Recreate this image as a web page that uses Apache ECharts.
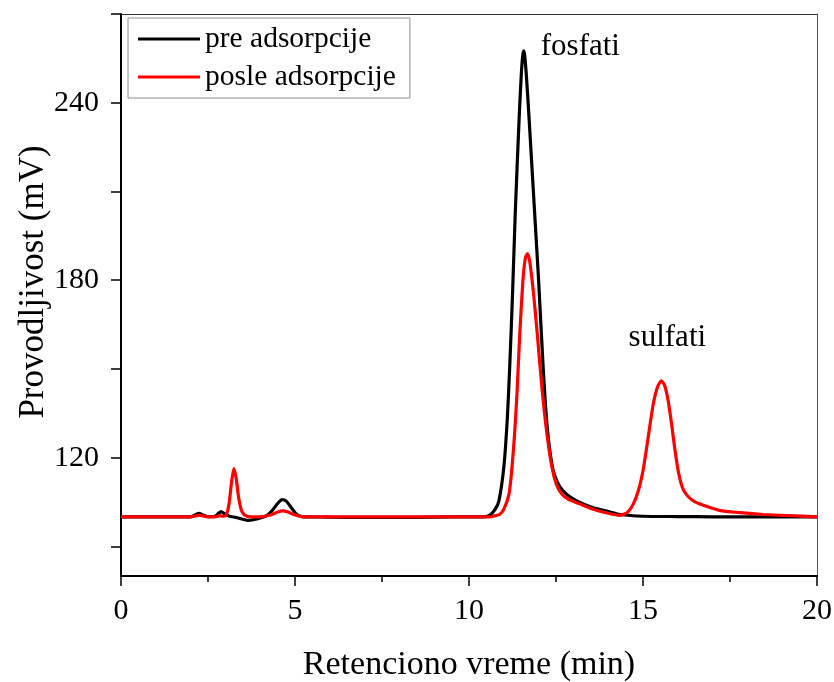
<!DOCTYPE html>
<html>
<head>
<meta charset="utf-8">
<script src="https://cdn.jsdelivr.net/npm/echarts@6/dist/echarts.min.js"></script>
<style>
  html, body { margin: 0; padding: 0; background: #fff; }
  #chart { width: 834px; height: 682px; }
</style>
</head>
<body>
<div id="chart"></div>
<script>
// Ion chromatogram: conductivity vs. retention time, before and after adsorption
const seriesNames = ['pre adsorpcije', 'posle adsorpcije'];

const preTime = [0, 1, 2, 2.12, 2.24, 2.36, 2.5, 2.7, 2.8, 2.88, 2.96, 3.1, 3.3, 3.5, 3.65, 3.8, 4.0, 4.2, 4.35, 4.5, 4.63, 4.75, 4.9, 5.05, 5.2, 5.5, 6, 7, 8, 9, 10, 10.4, 10.6, 10.75, 10.86, 11.0, 11.1, 11.17, 11.25, 11.33, 11.44, 11.5, 11.54, 11.57, 11.6, 11.65, 11.72, 11.8, 11.9, 12.0, 12.13, 12.25, 12.4, 12.55, 12.7, 12.9, 13.2, 13.57, 14.0, 14.33, 15, 16, 17, 18, 19, 20];
const preValue = [100, 100, 100, 100.6, 101.2, 100.6, 100.1, 100.2, 101.2, 101.8, 101.2, 100.3, 99.8, 99.2, 98.8, 99.0, 99.6, 100.5, 102.2, 104.5, 105.8, 105.3, 103, 100.8, 100.1, 100, 99.9, 99.8, 99.8, 99.9, 100, 100, 100.6, 102.5, 105.4, 116.7, 133, 150.7, 175, 202.9, 234.6, 249, 255.5, 257.5, 256, 249, 236, 220, 200, 180, 150.7, 130, 116.7, 111.5, 108.8, 106.8, 104.8, 103.1, 101.8, 100.8, 100.2, 100.1, 100, 100, 100, 100];

const postTime = [0, 1, 2, 2.12, 2.24, 2.36, 2.5, 2.7, 2.85, 2.95, 3.02, 3.1, 3.17, 3.24, 3.31, 3.38, 3.46, 3.55, 3.7, 4.0, 4.3, 4.5, 4.65, 4.8, 5.0, 5.2, 5.5, 6, 7, 8, 9, 10, 10.6, 10.75, 10.88, 11.0, 11.15, 11.23, 11.31, 11.38, 11.46, 11.55, 11.62, 11.68, 11.75, 11.85, 11.96, 12.1, 12.24, 12.38, 12.51, 12.65, 12.85, 13.2, 13.57, 14.0, 14.33, 14.55, 14.72, 14.87, 15.0, 15.1, 15.2, 15.3, 15.42, 15.53, 15.62, 15.72, 15.82, 15.92, 16.02, 16.13, 16.25, 16.4, 16.6, 17.2, 17.8, 18.45, 19.4, 20];
const postValue = [100, 100, 100, 100.3, 100.6, 100.3, 100, 100, 100.4, 100.2, 100.5, 104, 111, 116.3, 113, 106.5, 102.2, 100.6, 100, 100, 100.6, 101.6, 102, 101.6, 100.6, 100.1, 100, 100, 100, 100, 100, 100, 100, 100.4, 100.8, 102.5, 107.7, 116, 128, 142, 162.1, 180, 187.5, 189, 186, 176, 162.1, 143, 128, 117, 111, 108, 106, 104.3, 102.6, 101.2, 100.5, 101.5, 104.3, 109, 115.6, 123, 131, 138.5, 144, 146, 144.5, 139.5, 131.5, 122.5, 115, 110, 107.5, 105.8, 104.5, 102.2, 101.4, 100.8, 100.3, 100];

// Peak annotations: label text and its anchor in data units
const peakLabels = ['fosfati', 'sulfati'];
const peakLabelTime = [13.2, 15.7];
const peakLabelValue = [259, 160.5];

const xTicks = [0, 5, 10, 15, 20];
const yTickValues = [90, 120, 150, 180, 210, 240, 270];
const yLabelValues = [120, 180, 240];

const FONT = '"Liberation Serif", "DejaVu Serif", serif';

function zip(xs, ys) { return xs.map((x, i) => [x, ys[i]]); }

const chart = echarts.init(document.getElementById('chart'), null, { renderer: 'canvas' });

chart.setOption({
  animation: false,
  backgroundColor: '#ffffff',
  textStyle: { fontFamily: FONT, color: '#000' },
  grid: { left: 121, right: 17, top: 14, bottom: 106, containLabel: false, outerBoundsMode: 'none' },
  legend: {
    data: seriesNames,
    orient: 'vertical',
    left: 128,
    top: 18,
    padding: [6, 14, 6, 10],
    itemGap: 8,
    itemWidth: 62,
    itemHeight: 3,
    icon: 'rect',
    borderColor: '#8c8c8c',
    borderWidth: 1,
    backgroundColor: '#ffffff',
    textStyle: { fontFamily: FONT, fontSize: 29.5, color: '#000', padding: [0, 0, 0, 0] }
  },
  xAxis: [{
    type: 'value',
    min: 0,
    max: 20,
    interval: 5,
    name: 'Retenciono vreme (min)',
    nameLocation: 'middle',
    nameGap: 72,
    nameTextStyle: { fontFamily: FONT, fontSize: 34, color: '#000' },
    axisLine: { show: true, onZero: false, lineStyle: { color: '#000', width: 2 } },
    axisTick: { show: true, inside: false, length: 10, lineStyle: { color: '#000', width: 1.5 } },
    minorTick: { show: true, splitNumber: 2, length: 6, lineStyle: { color: '#000', width: 1.5 } },
    axisLabel: {
      margin: 20, fontFamily: FONT, fontSize: 30, color: '#000',
      customValues: xTicks
    },
    splitLine: { show: false }
  }, {
    type: 'value', position: 'top', min: 0, max: 20,
    axisLine: { show: true, onZero: false, lineStyle: { color: '#333', width: 1 } },
    axisTick: { show: false }, axisLabel: { show: false }, splitLine: { show: false }
  }],
  yAxis: [{
    type: 'value',
    min: 80,
    max: 270,
    name: 'Provodljivost (mV)',
    nameLocation: 'middle',
    nameGap: 70,
    nameMoveOverlap: false,
    nameRotate: 90,
    nameTextStyle: { fontFamily: FONT, fontSize: 35, color: '#000', padding: [0, 0, 0, 26] },
    axisLine: { show: true, onZero: false, lineStyle: { color: '#000', width: 2 } },
    axisTick: { show: true, inside: false, length: 10, lineStyle: { color: '#000', width: 1.5 }, customValues: yTickValues },
    axisLabel: { margin: 22, fontFamily: FONT, fontSize: 30, color: '#000', customValues: yLabelValues },
    splitLine: { show: false }
  }, {
    type: 'value', position: 'right', min: 80, max: 270,
    axisLine: { show: true, onZero: false, lineStyle: { color: '#555', width: 1 } },
    axisTick: { show: false }, axisLabel: { show: false }, splitLine: { show: false }
  }],
  series: [{
    name: seriesNames[0],
    type: 'line',
    data: zip(preTime, preValue),
    showSymbol: false,
    smooth: 0.2,
    color: '#000000',
    lineStyle: { color: '#000000', width: 3.2 },
    z: 2
  }, {
    name: seriesNames[1],
    type: 'line',
    data: zip(postTime, postValue),
    showSymbol: false,
    smooth: 0.2,
    color: '#ff0000',
    lineStyle: { color: '#ff0000', width: 3.2 },
    z: 3,
    markPoint: {
      symbol: 'circle',
      symbolSize: 1,
      itemStyle: { color: 'rgba(0,0,0,0)' },
      label: {
        show: true, position: 'inside',
        fontFamily: FONT, fontSize: 31, color: '#000',
        formatter: p => p.name
      },
      data: peakLabels.map((name, i) => ({ name, coord: [peakLabelTime[i], peakLabelValue[i]] }))
    }
  }]
});
</script>
</body>
</html>
